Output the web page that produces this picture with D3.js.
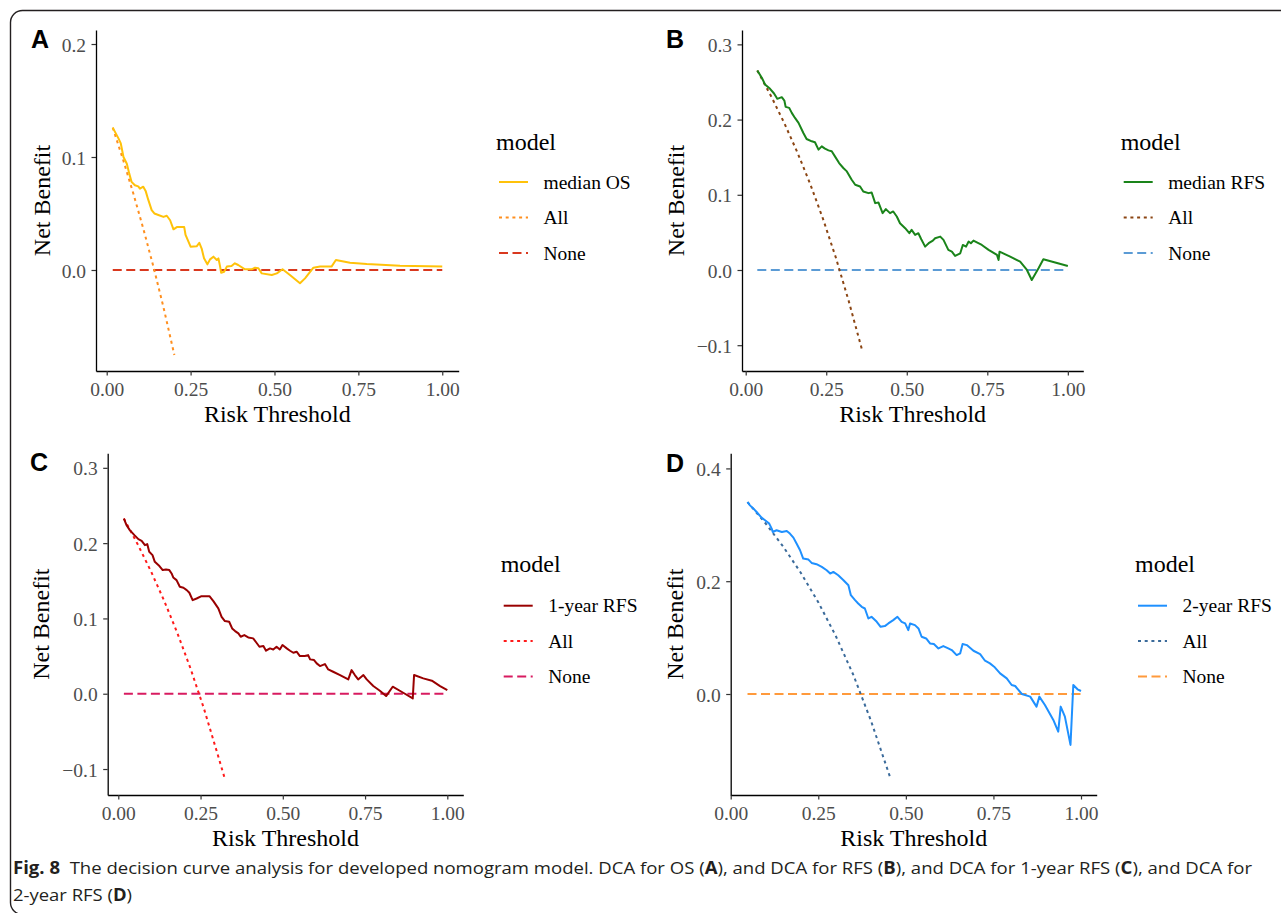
<!DOCTYPE html>
<html><head><meta charset="utf-8">
<script src="https://cdn.jsdelivr.net/npm/d3@7"></script>
<style>body{margin:0;background:#fff}svg{display:block}</style>
</head><body>
<svg id="chart" width="1281" height="913"></svg>
<script>
// ---------------- DATA ----------------
const xTicks = [0, 0.25, 0.5, 0.75, 1];
const yTicksA = [0, 0.1, 0.2];
const yTicksB = [-0.1, 0, 0.1, 0.2, 0.3];
const yTicksC = [-0.1, 0, 0.1, 0.2, 0.3];
const yTicksD = [0, 0.2, 0.4];

const legendA = ["median OS", "All", "None"];
const legendB = ["median RFS", "All", "None"];
const legendC = ["1-year RFS", "All", "None"];
const legendD = ["2-year RFS", "All", "None"];

const modelA = [[0.018,0.126],[0.035,0.1165],[0.042,0.112],[0.050,0.100],[0.060,0.094],[0.067,0.0855],[0.074,0.078],[0.084,0.075],[0.094,0.074],[0.099,0.072],[0.109,0.0737],[0.116,0.070],[0.124,0.062],[0.134,0.053],[0.142,0.050],[0.154,0.0487],[0.169,0.047],[0.179,0.048],[0.189,0.044],[0.199,0.036],[0.209,0.038],[0.223,0.038],[0.231,0.038],[0.235,0.031],[0.250,0.0206],[0.268,0.021],[0.276,0.024],[0.283,0.019],[0.290,0.0103],[0.300,0.005],[0.308,0.0094],[0.318,0.0118],[0.328,0.0088],[0.333,0.0103],[0.338,0.003],[0.341,-0.0024],[0.350,-0.0015],[0.358,0.003],[0.372,0.0035],[0.382,0.0059],[0.392,0.0044],[0.412,0.0006],[0.432,0.0006],[0.442,0.002],[0.452,0.0015],[0.462,-0.003],[0.492,-0.0044],[0.507,-0.003],[0.524,0.0006],[0.546,-0.0044],[0.576,-0.0118],[0.591,-0.0074],[0.616,0.002],[0.636,0.003],[0.670,0.003],[0.683,0.0088],[0.725,0.0065],[0.775,0.0053],[0.874,0.0038],[1.000,0.003]];
const allA = [[0.018,0.126],[0.05,0.0965],[0.08,0.067],[0.11,0.0356],[0.14,0.002],[0.17,-0.034],[0.2016,-0.0752]];
const noneA = [[0.018,0],[1,0]];

const modelB = [[0.036,0.2653],[0.050,0.2556],[0.060,0.2467],[0.0756,0.2409],[0.088,0.2347],[0.098,0.2276],[0.112,0.2298],[0.120,0.2253],[0.124,0.2169],[0.135,0.2156],[0.143,0.2089],[0.153,0.2022],[0.164,0.1956],[0.179,0.1822],[0.189,0.1742],[0.205,0.1711],[0.215,0.1698],[0.226,0.160],[0.236,0.1644],[0.246,0.1613],[0.257,0.1591],[0.267,0.1578],[0.277,0.1511],[0.290,0.1422],[0.303,0.1356],[0.314,0.1311],[0.329,0.120],[0.340,0.1133],[0.355,0.1111],[0.365,0.1044],[0.381,0.1022],[0.391,0.1031],[0.402,0.0889],[0.412,0.0898],[0.425,0.0756],[0.435,0.0809],[0.448,0.0756],[0.458,0.0778],[0.469,0.0711],[0.479,0.0622],[0.495,0.0556],[0.508,0.0489],[0.515,0.0533],[0.526,0.0467],[0.536,0.0489],[0.545,0.0409],[0.557,0.0311],[0.568,0.0356],[0.581,0.0391],[0.588,0.0422],[0.604,0.0444],[0.614,0.040],[0.629,0.0267],[0.640,0.0244],[0.650,0.0187],[0.666,0.0222],[0.674,0.0333],[0.684,0.0311],[0.692,0.0378],[0.699,0.0356],[0.707,0.0391],[0.733,0.0333],[0.754,0.0267],[0.780,0.020],[0.785,0.0133],[0.788,0.0244],[0.821,0.0178],[0.852,0.0111],[0.873,0.0],[0.888,-0.0133],[0.909,0.0022],[0.924,0.0142],[1.000,0.0053]];
const allB = [[0.036,0.2653],[0.08,0.2301],[0.12,0.1951],[0.16,0.1568],[0.2,0.1146],[0.24,0.068],[0.28,0.0162],[0.32,-0.0416],[0.362,-0.1076]];
const noneB = [[0.036,0],[1,0]];

const modelC = [[0.017,0.2327],[0.025,0.2239],[0.035,0.2173],[0.049,0.2106],[0.061,0.2053],[0.071,0.2031],[0.081,0.1973],[0.088,0.1987],[0.094,0.1885],[0.104,0.1841],[0.111,0.1752],[0.125,0.1695],[0.135,0.1642],[0.145,0.165],[0.155,0.1642],[0.162,0.1597],[0.167,0.1544],[0.177,0.1509],[0.187,0.142],[0.198,0.1407],[0.208,0.1376],[0.216,0.1341],[0.226,0.1243],[0.238,0.1265],[0.253,0.1296],[0.277,0.1296],[0.289,0.123],[0.304,0.1133],[0.314,0.1022],[0.324,0.0965],[0.337,0.0956],[0.346,0.0867],[0.355,0.0832],[0.365,0.0801],[0.372,0.0757],[0.383,0.0779],[0.395,0.0748],[0.410,0.0735],[0.420,0.0677],[0.429,0.0624],[0.441,0.0633],[0.449,0.0571],[0.461,0.0602],[0.471,0.0588],[0.481,0.0624],[0.491,0.0588],[0.499,0.0646],[0.512,0.0602],[0.522,0.0571],[0.532,0.0544],[0.542,0.0558],[0.552,0.050],[0.567,0.050],[0.577,0.0513],[0.583,0.0456],[0.595,0.0447],[0.603,0.0403],[0.613,0.0367],[0.628,0.0394],[0.638,0.0323],[0.653,0.0292],[0.674,0.0248],[0.699,0.019],[0.709,0.0314],[0.719,0.0248],[0.729,0.019],[0.745,0.0248],[0.755,0.019],[0.775,0.0102],[0.795,0.004],[0.814,-0.0031],[0.834,0.0093],[0.866,0.0013],[0.895,-0.0062],[0.899,0.0248],[0.927,0.0204],[0.953,0.0173],[0.978,0.0102],[1.000,0.0049]];
const allC = [[0.017,0.2327],[0.06,0.1976],[0.1,0.1619],[0.14,0.1229],[0.18,0.0801],[0.22,0.0329],[0.26,-0.0193],[0.30,-0.0776],[0.322,-0.1102]];
const noneC = [[0.017,0],[1,0]];

const modelD = [[0.048,0.3404],[0.055,0.3345],[0.065,0.3286],[0.074,0.3227],[0.088,0.3127],[0.098,0.308],[0.110,0.3021],[0.117,0.2932],[0.120,0.2873],[0.131,0.2903],[0.146,0.2873],[0.160,0.2891],[0.169,0.2844],[0.179,0.2773],[0.188,0.2667],[0.198,0.2549],[0.207,0.2401],[0.222,0.2383],[0.231,0.2324],[0.245,0.2301],[0.260,0.2254],[0.274,0.2195],[0.284,0.2136],[0.293,0.2165],[0.307,0.2106],[0.322,0.2018],[0.336,0.1929],[0.343,0.1752],[0.355,0.1664],[0.364,0.1605],[0.374,0.1546],[0.383,0.1516],[0.393,0.1339],[0.402,0.1369],[0.417,0.128],[0.428,0.1192],[0.440,0.1204],[0.450,0.1251],[0.464,0.131],[0.476,0.1369],[0.488,0.128],[0.498,0.1251],[0.507,0.1133],[0.512,0.1251],[0.526,0.1221],[0.536,0.1162],[0.545,0.1015],[0.558,0.0985],[0.569,0.0897],[0.580,0.0885],[0.593,0.0808],[0.607,0.085],[0.621,0.0808],[0.631,0.0779],[0.645,0.069],[0.655,0.072],[0.662,0.0885],[0.674,0.0867],[0.693,0.0767],[0.712,0.0708],[0.726,0.059],[0.740,0.0543],[0.752,0.0484],[0.769,0.0366],[0.788,0.0277],[0.802,0.0159],[0.812,0.0142],[0.831,0.0],[0.855,-0.0047],[0.873,-0.0224],[0.881,-0.0047],[0.897,-0.0195],[0.921,-0.046],[0.935,-0.0667],[0.942,-0.0224],[0.954,-0.0401],[0.970,-0.0903],[0.978,0.0159],[0.990,0.0083],[1.000,0.0053]];
const allD = [[0.048,0.3404],[0.1,0.3022],[0.15,0.2612],[0.2,0.215],[0.25,0.1627],[0.3,0.1029],[0.35,0.0339],[0.4,-0.0467],[0.455,-0.1475]];
const noneD = [[0.048,0],[1,0]];

// ---------------- LAYOUT / STYLE ----------------
const panels = [
  {tag:"A", model:modelA, all:allA, none:noneA, yTicks:yTicksA, legend:legendA,
   colors:["#FFC20A","#FF8F1F","#D9381E"],
   xr:[96,458.7], xd:[-0.0319,1.049], yr:[371,30], yd:[-0.0894,0.2124],
   tagPos:[31,47.7], yTitleX:50, legX:496, legTitleY:150, legY:[182,217.5,253]},
  {tag:"B", model:modelB, all:allB, none:noneB, yTicks:yTicksB, legend:legendB,
   colors:["#1A841A","#8B4513","#5B9BD5"],
   xr:[742,1083.3], xd:[-0.0115,1.048], yr:[371,30], yd:[-0.1343,0.3191],
   tagPos:[666,47.7], yTitleX:684, legX:1120.7, legTitleY:149.5, legY:[182,217.5,253]},
  {tag:"C", model:modelC, all:allC, none:noneC, yTicks:yTicksC, legend:legendC,
   colors:["#990000","#FF1A1A","#D81B60"],
   xr:[107.7,463.3], xd:[-0.0322,1.0486], yr:[795,453.3], yd:[-0.1345,0.3193],
   tagPos:[30,471], yTitleX:49.3, legX:500.7, legTitleY:572.3, legY:[605.7,641,676.5]},
  {tag:"D", model:modelD, all:allD, none:noneD, yTicks:yTicksD, legend:legendD,
   colors:["#1E90FF","#3A6A9A","#FF9A3C"],
   xr:[730.7,1096.7], xd:[0,1.0448], yr:[795,453.3], yd:[-0.1791,0.4268],
   tagPos:[666,471.7], yTitleX:683.3, legX:1135, legTitleY:572, legY:[605.7,641,676.5]}
];

const SERIF = "'Liberation Serif','Times New Roman',serif";
const SANS = "'Liberation Sans',Arial,sans-serif";
const dashes = [null, "3,3.7", "9,4.5"];

const svg = d3.select("#chart");

// outer frame
svg.append("rect").attr("x",10.5).attr("y",10.5).attr("width",1300).attr("height",904)
  .attr("rx",12).attr("fill","none").attr("stroke","#231f20").attr("stroke-width",1.4);

panels.forEach(p => {
  const x = d3.scaleLinear().domain(p.xd).range(p.xr);
  const y = d3.scaleLinear().domain(p.yd).range(p.yr);
  const g = svg.append("g");

  // axes
  const ax = g.append("g").attr("transform",`translate(0,${p.yr[0]})`)
    .call(d3.axisBottom(x).tickValues(xTicks).tickFormat(d3.format(".2f")).tickSize(4.5).tickSizeOuter(0));
  const ay = g.append("g").attr("transform",`translate(${p.xr[0]},0)`)
    .call(d3.axisLeft(y).tickValues(p.yTicks).tickFormat(d3.format(".1f")).tickSize(4.5).tickSizeOuter(0));
  [ax, ay].forEach(a => {
    a.select(".domain").attr("stroke","#000").attr("stroke-width",1.3);
    a.selectAll(".tick line").attr("stroke","#333").attr("stroke-width",1.2);
    a.selectAll(".tick text").attr("fill","#4d4d4d").attr("font-family",SERIF).attr("font-size",19.5);
  });
  ax.selectAll(".tick text").attr("y",24.5).attr("dy",null);
  ay.selectAll(".tick text").attr("x",-10).attr("dy","0.36em");

  // axis titles
  g.append("text").attr("x",(p.xr[0]+p.xr[1])/2).attr("y",p.yr[0]+50.5)
    .attr("text-anchor","middle").attr("font-family",SERIF).attr("font-size",24).attr("fill","#000")
    .text("Risk Threshold");
  g.append("text").attr("transform",`translate(${p.yTitleX},${(p.yr[0]+p.yr[1])/2}) rotate(-90)`)
    .attr("text-anchor","middle").attr("font-family",SERIF).attr("font-size",24).attr("fill","#000")
    .text("Net Benefit");

  // lines
  const line = d3.line().x(d=>x(d[0])).y(d=>y(d[1]));
  const series = [p.model, p.all, p.none];
  [2,1,0].forEach(i => {
    g.append("path").datum(series[i]).attr("d",line).attr("fill","none")
      .attr("stroke",p.colors[i]).attr("stroke-width",2)
      .attr("stroke-dasharray",dashes[i]).attr("stroke-linejoin","round");
  });

  // panel tag
  g.append("text").attr("x",p.tagPos[0]).attr("y",p.tagPos[1]).attr("font-family",SANS)
    .attr("font-weight","bold").attr("font-size",25).attr("fill","#000").text(p.tag);

  // legend
  const lg = g.append("g");
  lg.append("text").attr("x",p.legX).attr("y",p.legTitleY).attr("font-family",SERIF)
    .attr("font-size",24).attr("fill","#000").text("model");
  p.legend.forEach((lab,i) => {
    const ly = p.legY[i];
    lg.append("line").attr("x1",p.legX+3).attr("x2",p.legX+32).attr("y1",ly).attr("y2",ly)
      .attr("stroke",p.colors[i]).attr("stroke-width",2).attr("stroke-dasharray",dashes[i]);
    lg.append("text").attr("x",p.legX+47.5).attr("y",ly+6.5).attr("font-family",SERIF)
      .attr("font-size",19.5).attr("fill","#000").text(lab);
  });
});

// caption
const CAPF = "'Open Sans','Noto Sans',sans-serif";
const cap = svg.append("text").attr("x",13).attr("y",874).attr("font-family",CAPF)
  .attr("font-size",17).attr("fill","#231f20").attr("textLength",1239).attr("lengthAdjust","spacingAndGlyphs");
cap.append("tspan").attr("font-weight","bold").text("Fig. 8");
cap.append("tspan").text("\u00a0\u00a0The decision curve analysis for developed nomogram model. DCA for OS (");
cap.append("tspan").attr("font-weight","bold").text("A");
cap.append("tspan").text("), and DCA for RFS (");
cap.append("tspan").attr("font-weight","bold").text("B");
cap.append("tspan").text("), and DCA for 1-year RFS (");
cap.append("tspan").attr("font-weight","bold").text("C");
cap.append("tspan").text("), and DCA for");
const cap2 = svg.append("text").attr("x",13).attr("y",901).attr("font-family",CAPF)
  .attr("font-size",17).attr("fill","#231f20").attr("textLength",119).attr("lengthAdjust","spacingAndGlyphs");
cap2.append("tspan").text("2-year RFS (");
cap2.append("tspan").attr("font-weight","bold").text("D");
cap2.append("tspan").text(")");
</script>
</body></html>
